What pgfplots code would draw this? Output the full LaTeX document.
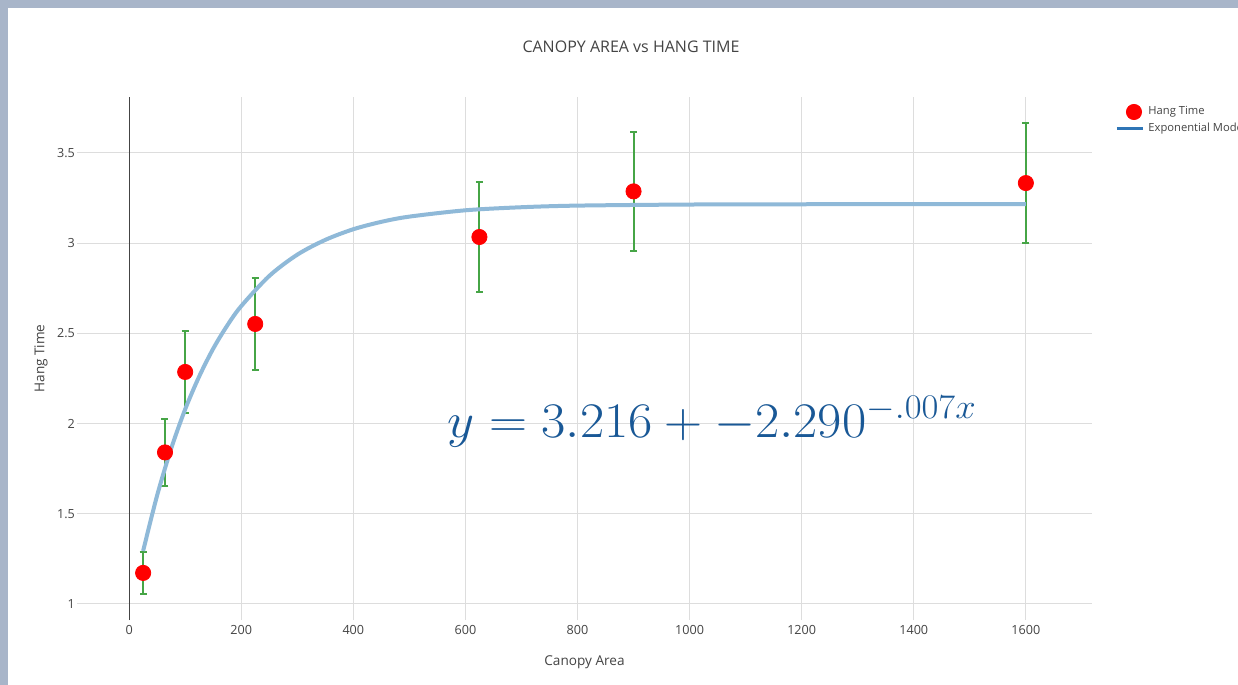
\documentclass[border=0pt]{standalone}
\usepackage[no-math]{fontspec}
\setmainfont{Open Sans}
\usepackage{pgfplots}
\pgfplotsset{compat=1.18}
\usepackage{pgfplotstable}
\definecolor{bgborder}{RGB}{168,181,201}
\definecolor{txtgray}{RGB}{68,68,68}
\definecolor{gridgray}{RGB}{221,221,221}
\definecolor{errgreen}{RGB}{70,165,70}
\definecolor{curveblue}{RGB}{143,185,216}
\definecolor{legblue}{RGB}{46,117,182}
\definecolor{eqblue}{RGB}{25,88,150}

\pgfplotstableread{
x y err
25 1.172 0.117
64 1.840 0.186
100 2.286 0.227
225 2.552 0.255
625 3.034 0.305
900 3.287 0.330
1600 3.333 0.333
}\hangdata

\pgfplotstableread{
x y
25 1.294
50 1.602
75 1.861
100 2.079
125 2.261
150 2.415
175 2.543
200 2.651
250 2.818
300 2.936
350 3.018
400 3.077
450 3.118
500 3.147
600 3.182
700 3.199
800 3.208
1000 3.214
1200 3.2155
1600 3.216
}\modeldata

\begin{document}
\begin{tikzpicture}
\begin{scope}[x=0.5pt,y=-0.5pt]
\fill[bgborder] (0,0) rectangle (1238,685);
\fill[white] (8,8) rectangle (1238,685);
\end{scope}
\begin{axis}[
  at={(38.5pt,-48.5pt)}, anchor=north west,
  scale only axis, width=507.5pt, height=261.5pt,
  xmin=-93, xmax=1718, ymin=0.911, ymax=3.81,
  axis line style={draw=none},
  major tick length=0pt,
  xtick={200,400,...,1600},
  extra x ticks={0},
  extra x tick style={grid style={txtgray, line width=0.6pt}},
  ytick={1,1.5,...,3.5},
  grid=major, grid style={gridgray, line width=0.5pt},
  tick label style={font=\fontsize{6.3}{7}\selectfont, text=txtgray},
  /pgf/number format/assume math mode=true,
  /pgf/number format/1000 sep={},
  xticklabel style={yshift=1pt},
  yticklabel style={xshift=2.5pt},
  every axis title shift=0pt,
  title={CANOPY AREA vs HANG TIME},
  title style={at={(axis description cs:0.5458,1.0956)}, anchor=center, font=\fontsize{8}{9}\selectfont, text=txtgray},
  xlabel={Canopy Area},
  xlabel style={at={(axis description cs:0.5,-0.0803)}, anchor=center, font=\fontsize{6.8}{8}\selectfont, text=txtgray},
  ylabel={Hang Time},
  ylabel style={at={(axis description cs:-0.0355,0.5)}, anchor=center, font=\fontsize{6.8}{8}\selectfont, text=txtgray},
  legend style={at={(axis description cs:1.0207,0.9943)}, anchor=north west, draw=none, fill=none,
    font=\fontsize{5.6}{6}\selectfont, text=txtgray, row sep=-1.5pt, inner sep=1pt},
  legend cell align=left,
  clip=false,
]
\addplot[only marks, mark=*, mark size=3.8pt, mark options={fill=red, draw=red},
  error bars/.cd, y dir=both, y explicit,
  error bar style={draw=errgreen, line width=1pt},
  error mark options={rotate=90, draw=errgreen, mark size=1.75pt, line width=1pt}]
  table[x=x, y=y, y error=err] {\hangdata};
\addlegendentry{Hang Time}
\addplot[curveblue, line width=2pt, smooth, no marks,
  legend image code/.code={\draw[legblue, line width=1.5pt] (0pt,0pt) -- (13pt,0pt);}]
  table[x=x, y=y] {\modeldata};
\addlegendentry{Exponential Model}
\end{axis}
\node[anchor=base west, text=eqblue, inner sep=0pt] at (223.5pt,-218.5pt) {\scalebox{1.06}[1]{\fontsize{23.5}{28}\selectfont$y = 3.216 + -2.290^{-.007x}$}};
\pgfresetboundingbox
\path[use as bounding box] (0pt,0pt) rectangle (619pt,-342.5pt);
\end{tikzpicture}
\end{document}
